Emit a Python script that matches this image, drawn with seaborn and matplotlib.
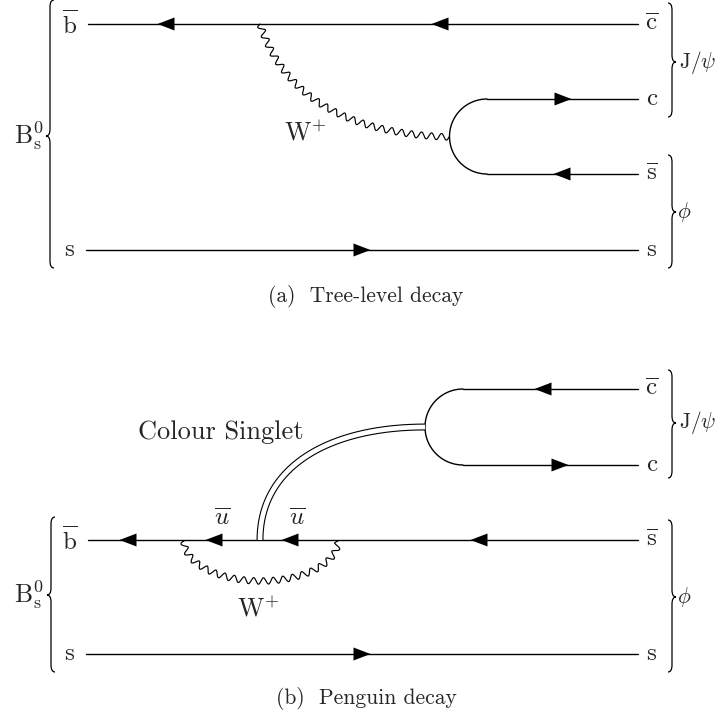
import numpy as np
import pandas as pd
import matplotlib
matplotlib.use("Agg")
import matplotlib.pyplot as plt
from matplotlib.path import Path
from matplotlib.patches import PathPatch, Polygon
import seaborn as sns

# ---------------- data (diagram layout, pixel units) ----------------
# Panel (a) : tree-level decay
a_line_y = [24, 99, 174, 250]          # bbar->cbar, c, sbar, s
a_line_x0 = [88, 487, 487, 86]
a_line_x1 = [638, 638, 638, 638]
a_arrow_x = [166, 440, 563, 562, 362]
a_arrow_y = [24, 24, 99, 174, 250]
a_arrow_dir = [-1, -1, 1, -1, 1]
a_left_labels = [r"$\overline{\mathrm{b}}$", r"$\mathrm{s}$"]
a_left_label_y = [24, 250]
a_right_labels = [r"$\overline{\mathrm{c}}$", r"$\mathrm{c}$",
                  r"$\overline{\mathrm{s}}$", r"$\mathrm{s}$"]
a_right_label_y = [24, 99, 174, 250]
a_w_ctrl = [(260, 24), (295, 132), (449, 137)]      # W boson path
a_arc_center = (487, 136.5)
a_arc_radius = 37.5

# Panel (b) : penguin decay
b_line_y = [389, 465, 540, 654]        # cbar, c, bbar->sbar, s
b_line_x0 = [463, 463, 88, 86]
b_line_x1 = [638, 638, 638, 638]
b_arrow_x = [543, 560, 128, 214, 290, 479, 362]
b_arrow_y = [389, 465, 540, 540, 540, 540, 654]
b_arrow_dir = [-1, 1, -1, -1, -1, -1, 1]
b_left_labels = [r"$\overline{\mathrm{b}}$", r"$\mathrm{s}$"]
b_left_label_y = [540, 654]
b_right_labels = [r"$\overline{\mathrm{c}}$", r"$\mathrm{c}$",
                  r"$\overline{\mathrm{s}}$", r"$\mathrm{s}$"]
b_right_label_y = [389, 465, 540, 654]
b_arc_center = (463, 427)
b_arc_radius = 38
b_singlet_ctrl = [(260, 540), (260, 466), (330, 427), (425, 427)]
b_loop_center = (261, 541)
b_loop_radii = (77, 40)
b_ubar_x = [222, 297]
b_ubar_y = 519

# braces: (x spine, y top, y bottom, y tip, direction)
braces = [
    (50, 0, 268, 136, -1),
    (672, 3, 117, 62, 1),
    (672, 155, 268, 212, 1),
    (51, 517, 672, 595, -1),
    (672, 370, 478, 423, 1),
    (672, 520, 672, 597, 1),
]
meson_labels = [
    (r"$\mathrm{B}^{0}_{\mathrm{s}}$", 29, 136, "center", 18.5),
    (r"$\mathrm{J}/\psi$", 679, 62, "left", 15.5),
    (r"$\phi$", 677, 212, "left", 15.5),
    (r"$\mathrm{B}^{0}_{\mathrm{s}}$", 29, 595, "center", 18.5),
    (r"$\mathrm{J}/\psi$", 679, 423, "left", 15.5),
    (r"$\phi$", 677, 597, "left", 15.5),
]
captions = [("(a)  Tree-level decay", 366, 297), ("(b)  Penguin decay", 366, 699)]

# ---------------- style ----------------
sns.set_theme(style="white")
plt.rcParams["font.family"] = ["cmr10", "DejaVu Serif"]
plt.rcParams["mathtext.fontset"] = "cm"
plt.rcParams["axes.unicode_minus"] = False

W, H = 720, 717
fig = plt.figure(figsize=(W / 100, H / 100), dpi=100)
ax = fig.add_axes([0, 0, 1, 1])
ax.set_xlim(0, W)
ax.set_ylim(H, 0)
ax.axis("off")

LW = 1.0
LABEL_FS = 18
W_FS = 18.5
CAP_FS = 15.5


def fermion_lines(x0, x1, ys, tag):
    rows = []
    for i, (a, b, y) in enumerate(zip(x0, x1, ys)):
        rows.append({"x": a, "y": y, "u": f"{tag}{i}"})
        rows.append({"x": b, "y": y, "u": f"{tag}{i}"})
    df = pd.DataFrame(rows)
    sns.lineplot(data=df, x="x", y="y", units="u", estimator=None,
                 color="black", lw=LW, ax=ax, legend=False, sort=False)


def arrow(cx, cy, d, L=17, h=6.5):
    tip = (cx + d * L / 2, cy)
    b1 = (cx - d * L / 2, cy - h)
    b2 = (cx - d * L / 2, cy + h)
    ax.add_patch(Polygon([tip, b1, b2], closed=True, color="black", lw=0, zorder=5))


def wavy(xs, ys, amp=3.2, wl=10.0, lw=0.85):
    xs = np.asarray(xs, float)
    ys = np.asarray(ys, float)
    dx, dy = np.gradient(xs), np.gradient(ys)
    seg = np.hypot(np.diff(xs), np.diff(ys))
    s = np.concatenate([[0], np.cumsum(seg)])
    n_half = max(1, round(2 * s[-1] / wl))
    k = np.pi * n_half / s[-1]
    nrm = np.hypot(dx, dy)
    nx, ny = -dy / nrm, dx / nrm
    off = amp * np.sin(k * s)
    ax.plot(xs + nx * off, ys + ny * off, color="black", lw=lw, zorder=3)


def bezier(ctrl, n=600):
    t = np.linspace(0, 1, n)[:, None]
    P = np.asarray(ctrl, float)
    if len(P) == 3:
        pts = (1 - t) ** 2 * P[0] + 2 * t * (1 - t) * P[1] + t ** 2 * P[2]
    else:
        pts = ((1 - t) ** 3 * P[0] + 3 * t * (1 - t) ** 2 * P[1]
               + 3 * t ** 2 * (1 - t) * P[2] + t ** 3 * P[3])
    return pts[:, 0], pts[:, 1]


def half_arc(center, r):
    th = np.linspace(np.pi / 2, 3 * np.pi / 2, 200)
    ax.plot(center[0] + r * np.cos(th), center[1] + r * np.sin(th),
            color="black", lw=LW, zorder=3)


def brace(x, y0, y1, ym, d, w=4.0, r=7.0):
    # d=-1: tip points left (ends curl right); d=+1: tip points right
    e = -d
    verts = [(x + e * w, y0), (x, y0), (x, y0 + r),
             (x, ym - r), (x, ym), (x + d * w, ym),
             (x, ym), (x, ym + r),
             (x, y1 - r), (x, y1), (x + e * w, y1)]
    codes = [Path.MOVETO, Path.CURVE3, Path.CURVE3,
             Path.LINETO, Path.CURVE3, Path.CURVE3,
             Path.CURVE3, Path.CURVE3,
             Path.LINETO, Path.CURVE3, Path.CURVE3]
    ax.add_patch(PathPatch(Path(verts, codes), fill=False, lw=0.9,
                           edgecolor="black", zorder=3))


# ---------------- panel (a) ----------------
fermion_lines(a_line_x0, a_line_x1, a_line_y, "a")
half_arc(a_arc_center, a_arc_radius)
for x, y, d in zip(a_arrow_x, a_arrow_y, a_arrow_dir):
    arrow(x, y, d)
wx, wy = bezier(a_w_ctrl)
wavy(wx, wy)
ax.text(284, 133, r"$\mathrm{W}^{+}$", fontsize=W_FS, ha="left", va="center")
for t, y in zip(a_left_labels, a_left_label_y):
    ax.text(70, y, t, fontsize=LABEL_FS, ha="center", va="center")
for t, y in zip(a_right_labels, a_right_label_y):
    ax.text(652, y, t, fontsize=LABEL_FS, ha="center", va="center")

# ---------------- panel (b) ----------------
fermion_lines(b_line_x0, b_line_x1, b_line_y, "b")
half_arc(b_arc_center, b_arc_radius)
for x, y, d in zip(b_arrow_x, b_arrow_y, b_arrow_dir):
    arrow(x, y, d)
sx, sy = bezier(b_singlet_ctrl)
ax.plot(sx, sy, color="black", lw=5.0, zorder=4, solid_capstyle="butt")
ax.plot(sx, sy, color="white", lw=3.4, zorder=4, solid_capstyle="butt")
th = np.linspace(np.pi, 0, 600)
lx = b_loop_center[0] + b_loop_radii[0] * np.cos(th)
ly = b_loop_center[1] + b_loop_radii[1] * np.sin(th)
wavy(lx, ly)
ax.text(258, 609, r"$\mathrm{W}^{+}$", fontsize=W_FS, ha="center", va="center")
for x in b_ubar_x:
    ax.text(x, b_ubar_y, r"$\overline{u}$", fontsize=LABEL_FS, ha="center", va="center")
ax.text(221, 432, "Colour Singlet", fontsize=19, ha="center", va="center")
for t, y in zip(b_left_labels, b_left_label_y):
    ax.text(70, y, t, fontsize=LABEL_FS, ha="center", va="center")
for t, y in zip(b_right_labels, b_right_label_y):
    ax.text(652, y, t, fontsize=LABEL_FS, ha="center", va="center")

# ---------------- braces and meson labels ----------------
for b in braces:
    brace(*b)
for t, x, y, ha, fs in meson_labels:
    ax.text(x, y, t, fontsize=fs, ha=ha, va="center")

for t, x, y in captions:
    ax.text(x, y, t, fontsize=CAP_FS, ha="center", va="center")

fig.savefig("out.png", dpi=100)
